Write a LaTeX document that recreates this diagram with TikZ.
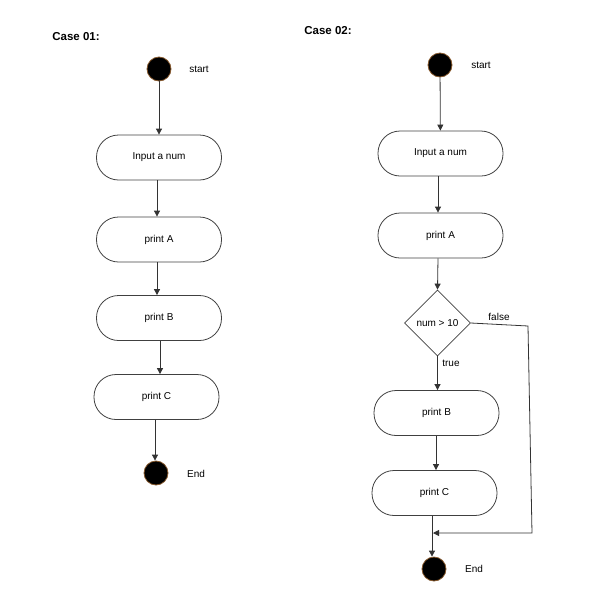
\documentclass[tikz,border=0pt]{standalone}
\usepackage{fontspec}
\setmainfont{Liberation Sans}
\usetikzlibrary{arrows.meta,shapes.geometric}
\begin{document}
\begin{tikzpicture}[x=1pt,y=-1pt,
  box/.style={draw=black!75,line width=0.8pt,rounded corners=22pt,minimum width=125pt,minimum height=45pt,inner sep=0pt,font=\fontsize{10}{12}\selectfont},
  dot/.style={circle,fill=black,draw=brown!70!black,line width=0.8pt,minimum size=24pt,inner sep=0pt},
  lbl/.style={font=\fontsize{10}{12}\selectfont,inner sep=0pt},
  ttl/.style={font=\bfseries\fontsize{11.5}{13}\selectfont,inner sep=0pt},
  dec/.style={diamond,draw=black!75,line width=0.8pt,minimum width=66pt,minimum height=66pt,inner sep=0pt,font=\fontsize{10}{12}\selectfont},
  arr/.style={-{Triangle[length=6pt,width=6pt]},line width=0.8pt,draw=black!80}]
\useasboundingbox (0,0) rectangle (610,611);
% Case 01
\node[ttl] (t1) at (76,37) {Case 01:};
\node[dot] (s1) at (159,69) {};
\node[lbl] (sl1) at (199,69) {start};
\node[box] (in1) at (159,157.5) {Input a num};
\node[box] (a1) at (159,239.5) {print A};
\node[box] (b1) at (159,318) {print B};
\node[box] (c1) at (156.5,397) {print C};
\node[dot] (e1) at (156,473) {};
\node[lbl] (el1) at (196,474) {End};
\draw[arr] (s1) -- (in1);
\draw[arr] (in1.south -| 157,0) -- (a1.north -| 157,0);
\draw[arr] (a1.south -| 157,0) -- (b1.north -| 157,0);
\draw[arr] (b1.south -| 160,0) -- (c1.north -| 160,0);
\draw[arr] (c1.south -| 155,0) -- (e1.north -| 155,0);
% Case 02
\node[ttl] (t2) at (328,31) {Case 02:};
\node[dot] (s2) at (440,65) {};
\node[lbl] (sl2) at (481,65) {start};
\node[box] (in2) at (440.5,153.5) {Input a num};
\node[box] (a2) at (440.5,235.5) {print A};
\node[dec] (d2) at (437.5,323) {num > 10};
\node[lbl] (fl) at (499,317) {false};
\node[lbl] (tl) at (451,363) {true};
\node[box] (b2) at (436.5,413) {print B};
\node[box] (c2) at (434.5,493) {print C};
\node[dot] (e2) at (434,569) {};
\node[lbl] (el2) at (474,569) {End};
\coordinate (f1) at (528,326);
\coordinate (f2) at (532,533);
\coordinate (f3) at (433,533);
\draw[arr] (s2) -- (in2);
\draw[arr] (in2.south -| 438,0) -- (a2.north -| 438,0);
\draw[arr] (a2.south -| 438,0) -- (d2.north);
\draw[arr] (d2.south) -- (b2.north -| d2.south);
\draw[arr] (b2.south -| 436,0) -- (c2.north -| 436,0);
\draw[arr] (c2.south -| 432,0) -- (e2.north -| 432,0);
\draw[arr] (d2.east) -- (f1) -- (f2) -- (f3);
\end{tikzpicture}
\end{document}
